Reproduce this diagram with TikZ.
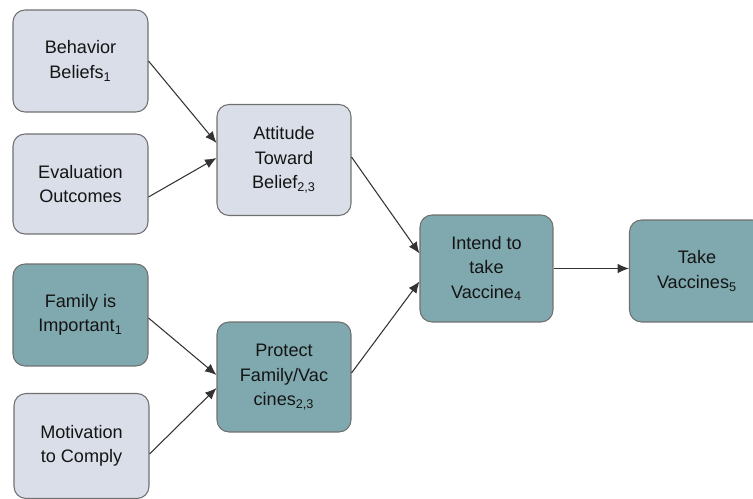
\documentclass[tikz,border=0pt]{standalone}
\usepackage{fontspec}
\setmainfont{Liberation Sans}
\usepackage{xcolor}
\definecolor{PaleBlue}{HTML}{D9DEE8}
\definecolor{SlateTeal}{HTML}{80A9AF}
\definecolor{EdgeGrey}{HTML}{707070}
\usepackage{tikz}
\usetikzlibrary{arrows.meta,calc}

\begin{document}
\begin{tikzpicture}[x=0.02cm,y=-0.02cm,
  box/.style={draw=EdgeGrey,line width=0.6pt,rounded corners=0.24cm,align=center,
    text=black!92,font=\fontsize{10.3}{14}\selectfont,
    minimum width=2.7cm,minimum height=2.04cm,inner sep=2pt},
  pale/.style={box,fill=PaleBlue},
  teal/.style={box,fill=SlateTeal},
  arr/.style={-{Latex[length=6.5pt,width=5.5pt]},line width=0.6pt,black!80}
]
  \clip (0,0) rectangle (753,499);
  % left column
  \node[pale] (beh) at (80.5,61) {Behavior\\Beliefs\textsubscript{1}};
  \node[pale,minimum height=2cm] (eva) at (80.5,184) {Evaluation\\Outcomes};
  \node[teal] (fam) at (80.5,315) {Family is\\Important\textsubscript{1}};
  \node[pale,minimum height=2.1cm] (mot) at (81.5,446) {Motivation\\to Comply};
  % middle column
  \node[pale,minimum width=2.68cm,minimum height=2.22cm] (att) at (284,160) {Attitude\\Toward\\Belief\textsubscript{2,3}};
  \node[teal,minimum width=2.68cm,minimum height=2.2cm] (pro) at (284,377) {Protect\\Family/Vac\\cines\textsubscript{2,3}};
  % right
  \node[teal,minimum width=2.66cm,minimum height=2.14cm] (int) at (486.5,268.5) {Intend to\\take\\Vaccine\textsubscript{4}};
  \node[teal,minimum width=2.7cm] (tak) at (697,271) {Take\\Vaccines\textsubscript{5}};
  % arrows
  \draw[arr] (beh.east) -- ($(att.west)+(0,-17)$);
  \draw[arr] ($(eva.east)+(0,13)$) -- ($(att.west)+(0,-2)$);
  \draw[arr] ($(fam.east)+(0,3)$) -- ($(pro.west)+(0,-2)$);
  \draw[arr] ($(mot.east)+(0,8)$) -- ($(pro.west)+(0,11)$);
  \draw[arr] ($(att.east)+(0,-3)$) -- ($(int.west)+(0,-15)$);
  \draw[arr] ($(pro.east)+(0,-4)$) -- ($(int.west)+(0,13)$);
  \draw[arr] (int.east) -- (int.east -| tak.west);
\end{tikzpicture}
\end{document}
